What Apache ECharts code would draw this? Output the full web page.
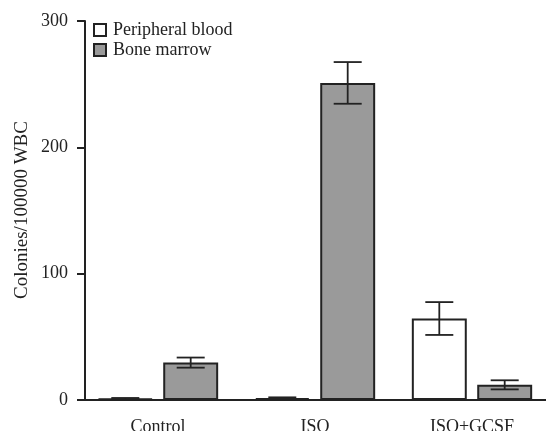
<!DOCTYPE html>
<html>
<head>
<meta charset="utf-8">
<script src="https://cdn.jsdelivr.net/npm/echarts@6/dist/echarts.min.js"></script>
<style>
html,body{margin:0;padding:0;background:#fff;}
#c{width:546px;height:431px;}
</style>
</head>
<body>
<div id="c"></div>
<script>
var categories = ['Control', 'ISO', 'ISO+GCSF'];
var seriesNames = ['Peripheral blood', 'Bone marrow'];
var pbMean = [1, 1.5, 64.5];
var pbErr = [0.6, 0.6, 13];
var bmMean = [29.6, 251, 12];
var bmErr = [4, 16.5, 3.6];
var yTicks = [0, 100, 200, 300];

var FONT = "'Liberation Serif', 'DejaVu Serif', serif";
var INK = '#222222';
var GRAY = '#9a9a9a';
var BAR_W = 0.35;
var BAR_GAP = 0.19;

function errSeries(means, errs, sideSign) {
  var data = means.map(function (m, i) { return [i, m, errs[i]]; });
  return {
    type: 'custom',
    silent: true,
    z: 5,
    renderItem: function (params, api) {
      var idx = api.value(0);
      var m = api.value(1), e = api.value(2);
      var band = api.size([1, 0])[0];
      var bw = band * BAR_W;
      var off = (bw + bw * BAR_GAP) / 2 * sideSign;
      var c = api.coord([idx, m]);
      var x = c[0] + off;
      var top = api.coord([idx, m + e])[1];
      var bot = api.coord([idx, Math.max(m - e, 0)])[1];
      var cap = 14;
      var st = { stroke: INK, lineWidth: 1.8 };
      return {
        type: 'group',
        children: [
          { type: 'line', shape: { x1: x, y1: top, x2: x, y2: bot }, style: st },
          { type: 'line', shape: { x1: x - cap, y1: top, x2: x + cap, y2: top }, style: st },
          { type: 'line', shape: { x1: x - cap, y1: bot, x2: x + cap, y2: bot }, style: st }
        ]
      };
    },
    data: data
  };
}

var chart = echarts.init(document.getElementById('c'), null, { renderer: 'canvas' });
chart.setOption({
  backgroundColor: '#fff',
  animation: false,
  textStyle: { fontFamily: FONT },
  grid: { left: 79.5, right: -4.5, top: 21, bottom: 31, containLabel: false, outerBoundsMode: 'none' },
  legend: {
    orient: 'vertical',
    left: 93,
    top: 21,
    padding: 0,
    itemWidth: 12,
    itemHeight: 12,
    itemGap: 2,
    icon: 'rect',
    textStyle: { fontFamily: FONT, fontSize: 18, color: INK, padding: [0, 0, 0, 2], lineHeight: 18 },
    data: seriesNames
  },
  xAxis: {
    type: 'category',
    data: categories,
    axisLine: { lineStyle: { color: INK, width: 2 } },
    axisTick: { alignWithLabel: true, length: 7, lineStyle: { color: INK, width: 2 } },
    axisLabel: { fontFamily: FONT, fontSize: 18, color: INK, margin: 18 },
    splitLine: { show: false }
  },
  yAxis: {
    type: 'value',
    min: yTicks[0],
    max: yTicks[yTicks.length - 1],
    interval: 100,
    offset: -5.5,
    axisLine: { show: true, lineStyle: { color: INK, width: 2 } },
    axisTick: { show: true, length: 8, lineStyle: { color: INK, width: 2 } },
    axisLabel: { fontFamily: FONT, fontSize: 18, color: INK, margin: 17 },
    splitLine: { show: false }
  },
  graphic: [{
    type: 'text',
    x: 22,
    y: 210,
    rotation: Math.PI / 2,
    style: {
      text: 'Colonies/100000 WBC',
      fontFamily: FONT,
      fontSize: 19,
      fill: INK,
      textAlign: 'center',
      textVerticalAlign: 'middle'
    }
  }],
  series: [
    {
      name: seriesNames[0],
      type: 'bar',
      barWidth: (BAR_W * 100) + '%',
      barGap: (BAR_GAP * 100) + '%',
      itemStyle: { color: '#ffffff', borderColor: INK, borderWidth: 2 },
      data: pbMean
    },
    {
      name: seriesNames[1],
      type: 'bar',
      barWidth: (BAR_W * 100) + '%',
      barGap: (BAR_GAP * 100) + '%',
      itemStyle: { color: GRAY, borderColor: INK, borderWidth: 2 },
      data: bmMean
    },
    errSeries(pbMean, pbErr, -1),
    errSeries(bmMean, bmErr, 1)
  ]
});
</script>
</body>
</html>
